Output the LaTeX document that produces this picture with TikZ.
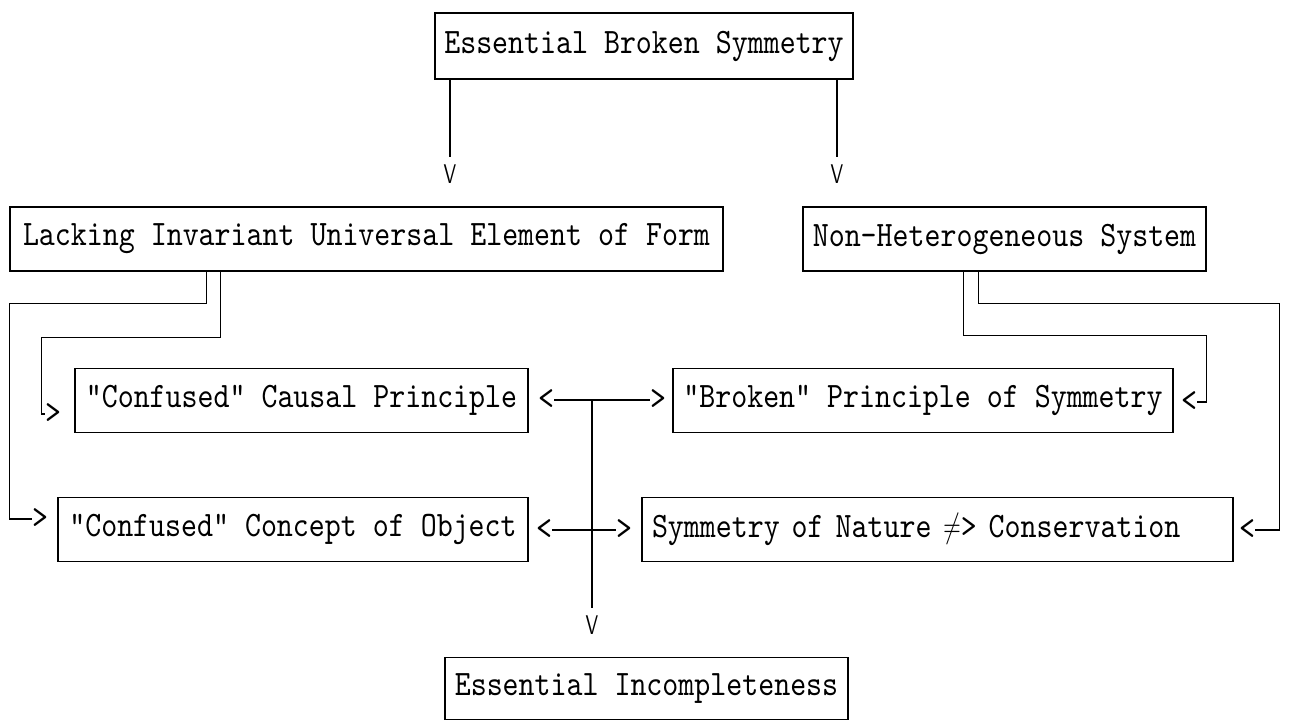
\documentclass[tikz,border=0pt]{standalone}
\usepackage{graphicx}
\usepackage{fontspec}
\usepackage{tikz}

\newfontfamily\boxtt[FakeStretch=0.85]{lmmono10-regular.otf}
\newfontfamily\headsf[FakeStretch=0.7]{lmsans10-regular.otf}
\newcommand{\boxfont}{\boxtt\fontsize{17.9}{20}\selectfont}

\begin{document}
\begin{tikzpicture}[
    x=0.5pt, y=-0.5pt,
    box/.style={rectangle, draw, line width=0.7pt, inner sep=3pt, minimum height=32pt, font=\boxfont},
    chev/.style={inner sep=0pt, font=\boxfont},
    vhead/.style={inner sep=0pt, font=\headsf\fontsize{13.5}{14}\selectfont},
    link/.style={line width=0.7pt},
    drop/.style={link, shorten >=3.5pt},
]
\useasboundingbox (0,0) rectangle (1289,720);

% Boxes
\node[box, minimum width=209pt, minimum height=33pt] (ebs) at (644,46) {Essential Broken Symmetry};
\node[box, minimum width=356.5pt] (lacking) at (366.5,239) {Lacking Invariant Universal Element of Form};
\node[box, minimum width=201.5pt] (nonhet) at (1004.5,239) {Non-Heterogeneous System};
\node[box, minimum width=226.5pt] (causal) at (301.5,400.5) {"Confused" Causal Principle};
\node[box, minimum width=250pt] (broken) at (923,400.5) {"Broken" Principle of Symmetry};
\node[box, minimum width=235pt] (object) at (293,529.5) {"Confused" Concept of Object};
\node[box, text width=285.5pt, inner xsep=5pt, align=left] (nature) at (937.5,529.5) {Symmetry of Nature \scalebox{0.7}[1]{$\neq$}> Conservation};
\node[box, minimum width=201.5pt, minimum height=31pt] (incomplete) at (646.5,688.5) {Essential Incompleteness};

% Heads
\node[vhead] (vl) at (450,174) {V};
\node[vhead] (vr) at (837,174) {V};
\node[chev] (inobj) at (40,519) {>};
\node[chev] (incau) at (53,414) {>};
\node[chev] (inbro) at (1189,402) {<};
\node[chev] (innat) at (1247,530) {<};
\node[chev] (cl1) at (546,400) {<};
\node[chev] (cr1) at (658,400) {>};
\node[chev] (cl2) at (544,530) {<};
\node[chev] (cr2) at (624,530) {>};
\node[vhead] (vd) at (592,625) {V};

% Top split
\draw[drop] (ebs.south -| vl) -- (vl.north);
\draw[drop] (ebs.south -| vr) -- (vr.north);

% Left feeds
\draw[link] ([xshift=98.5pt]lacking.south west) -- ++(0,32) -| (lacking.west |- inobj) -- (inobj.west);
\draw[link] ([xshift=105.5pt]lacking.south west) -- ++(0,66) -| ([xshift=-1.5pt]incau.west) -- (incau.west);

% Right feeds
\draw[link] ([xshift=80.5pt]nonhet.south west) -- ++(0,64) -| (nonhet.east |- inbro) -- (inbro.east);
\draw[link] ([xshift=88pt]nonhet.south west) -- ++(0,32) -| ([xshift=12pt]innat.east) -- (innat.east);

% Cross links
\draw[link] (cl1.east) -- (cr1.west);
\draw[link] (cl2.east) -- (cr2.west);
\draw[drop] (vd |- cl1) -- (vd.north);

\end{tikzpicture}
\end{document}
